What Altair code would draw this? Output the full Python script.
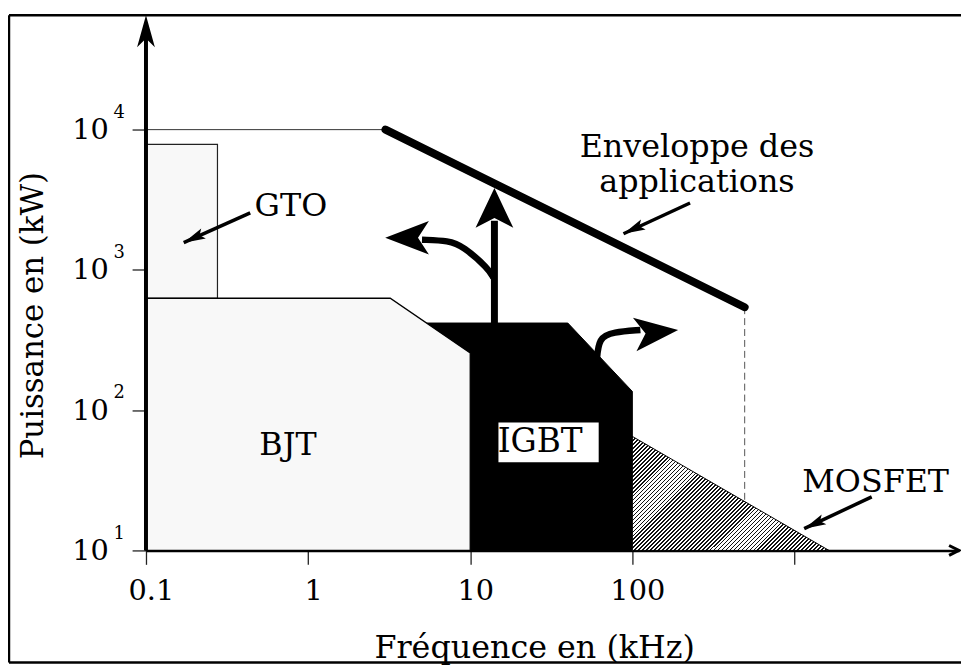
import altair as alt
import pandas as pd

# ---------------- data (frequency in kHz, power in kW) ----------------
X_DOMAIN = [0.1, 10350]
Y_DOMAIN = [10, 65260]
FLOOR = 10

x_tick_values = [0.1, 1, 10, 100, 1000]
x_tick_labels = ["0.1", "1", "10", "100", ""]
y_tick_values = [10, 100, 1000, 10000]
y_tick_base = "10"
y_tick_exponents = ["1", "2", "3", "4"]

# envelope of applications
env_ref_f = [0.1, 3.0]
env_ref_p = [10000, 10000]
env_f = [3.0, 493]
env_p = [10000, 542]
env_drop_f = [493, 493]
env_drop_p = [542, 22]

# device areas
gto_f = [0.1, 0.276]
gto_top = [7840, 7840]
gto_bottom = [628, 628]
bjt_f = [0.1, 3.21, 10]
bjt_p = [628, 628, 256]
igbt_f = [5.38, 40, 100]
igbt_p = [418, 418, 136]
mos_f = [100, 1633]
mos_p = [65, 10]

# IGBT label box
igbt_box_f = [14.93, 62.0]
igbt_box_p = [42.6, 81.8]

# text labels
label_text = ["GTO", "Enveloppe des", "applications", "BJT", "MOSFET"]
label_f = [0.783, 250.4, 250.4, 0.751, 3170]
label_p = [2427, 6346, 3588, 47.8, 26.2]
igbt_label_f = [27.0]
igbt_label_p = [50.2]

# thin annotation arrows (start -> tip)
ann_id = ["gto", "gto", "env", "env", "mos", "mos"]
ann_f = [0.4395, 0.1709, 226.9, 88.2, 2995, 1148]
ann_p = [2548, 1563, 2999, 1810, 24.1, 14.3]
ann_tip_f = [0.1709, 88.2, 1148]
ann_tip_p = [1563, 1810, 14.3]

# evolution arrows around IGBT
up_f = [14.1, 14.1]
up_p = [418, 2240]
up_tip_f = [14.1]
up_tip_p = [3830]
left_f = [13.9, 13.0, 9.0, 7.4, 5.04]
left_p = [880, 1020, 1480, 1615, 1641]
left_tip_f = [2.99]
left_tip_p = [1696]
right_f = [60.3, 62.0, 76.0, 112.1]
right_p = [221, 330, 360, 373]
right_tip_f = [191.6]
right_tip_p = [373]

# ---------------- helpers ----------------
FONT = "DejaVu Serif"
xs = alt.Scale(type="log", domain=X_DOMAIN, nice=False)
ys = alt.Scale(type="log", domain=Y_DOMAIN, nice=False)

x_expr = "[" + ",".join("'%s'" % s for s in x_tick_labels) + "][indexof([" + \
    ",".join(str(v) for v in x_tick_values) + "], datum.value)]"

x_axis = alt.Axis(
    values=x_tick_values, labelExpr=x_expr, grid=False,
    tickSize=14, tickWidth=1.3, tickColor="#222",
    domain=True, domainWidth=2.5, domainColor="black",
    labelFont=FONT, labelFontSize=29, labelColor="black", labelOffset=5,
    labelBaseline="alphabetic", labelPadding=35, labelFlush=False, labelOverlap=False,
    title="Fréquence en (kHz)", titleFont=FONT, titleFontSize=32,
    titleFontWeight="normal", titleColor="black",
    titleX=391, titleY=108, titleBaseline="alphabetic", titleAlign="center",
)
y_axis = alt.Axis(
    values=y_tick_values, labelExpr="'%s'" % y_tick_base, grid=False,
    tickSize=14, tickWidth=1.3, tickColor="#222",
    domain=False,
    labelFont=FONT, labelFontSize=29, labelColor="black",
    labelPadding=24, labelFlush=False, labelOverlap=False,
    title="Puissance en (kW)", titleFont=FONT, titleFontSize=31,
    titleFontWeight="normal", titleColor="black",
    titleX=-104, titleY=302, titleBaseline="alphabetic", titleAlign="center",
)


def X(field="f"):
    return alt.X(field + ":Q", scale=xs, axis=x_axis)


def Y(field="p"):
    return alt.Y(field + ":Q", scale=ys, axis=y_axis)


def df(**cols):
    return pd.DataFrame(cols)


one = df(a=[0])

# ---------------- layers ----------------
frame = [
    alt.Chart(one).mark_rule(stroke="black", strokeWidth=2.5).encode(
        x=alt.value(-138), x2=alt.value(830), y=alt.value(0)),
    alt.Chart(one).mark_rule(stroke="black", strokeWidth=2.5).encode(
        x=alt.value(-138), y=alt.value(0), y2=alt.value(652)),
    alt.Chart(one).mark_rule(stroke="black", strokeWidth=2.5).encode(
        x=alt.value(-138), x2=alt.value(830), y=alt.value(652)),
]

env_ref = alt.Chart(df(f=env_ref_f, p=env_ref_p)).mark_line(
    stroke="#333", strokeWidth=1).encode(x=X(), y=Y())
env_drop = alt.Chart(df(f=env_drop_f, p=env_drop_p)).mark_line(
    stroke="#555", strokeWidth=1, strokeDash=[7, 4]).encode(x=X(), y=Y())

LIGHT = "#f8f8f8"
gto = alt.Chart(df(f=gto_f, p=gto_top, p2=gto_bottom)).mark_area(
    fill=LIGHT, stroke="#222", strokeWidth=1.2).encode(
    x=X(), y=Y(), y2="p2:Q")

igbt = alt.Chart(df(f=igbt_f, p=igbt_p, b=[FLOOR] * len(igbt_f))).mark_area(
    fill="black", stroke="black", strokeWidth=1).encode(x=X(), y=Y(), y2="b:Q")

# hatch pattern for MOSFET via a striped linear gradient (45 degree stripes)
n_stripes = 80
dark = 0.42
stops = []
for k in range(n_stripes):
    a = k / n_stripes
    m = (k + dark) / n_stripes
    e = (k + 1) / n_stripes
    stops += [alt.GradientStop(color="#111", offset=a),
              alt.GradientStop(color="#111", offset=m),
              alt.GradientStop(color="white", offset=m),
              alt.GradientStop(color="white", offset=e)]
hatch = alt.LinearGradient(gradient="linear", stops=stops,
                           x1=0, y1=0, x2=1.2088, y2=0.7011)
mosfet = alt.Chart(df(f=mos_f, p=mos_p, b=[FLOOR] * len(mos_f))).mark_area(
    fill=hatch, stroke="black", strokeWidth=1).encode(x=X(), y=Y(), y2="b:Q")

bjt = alt.Chart(df(f=bjt_f, p=bjt_p, b=[FLOOR] * len(bjt_f))).mark_area(
    fill=LIGHT, stroke="black", strokeWidth=1.3).encode(x=X(), y=Y(), y2="b:Q")

envelope = alt.Chart(df(f=env_f, p=env_p)).mark_line(
    stroke="black", strokeWidth=8, strokeCap="round").encode(x=X(), y=Y())

# axis lines and heads
y_axis_line = alt.Chart(one).mark_rule(stroke="black", strokeWidth=4).encode(
    x=alt.value(0), y=alt.value(539), y2=alt.value(22))
HEAD_Y = "M0,0L0.56,2L0,1.45L-0.56,2Z"
y_head = alt.Chart(df(f=[X_DOMAIN[0]], p=[Y_DOMAIN[1]])).mark_point(
    shape=HEAD_Y, size=1024, filled=True, fill="black", strokeWidth=0,
    opacity=1).encode(x=X(), y=Y())
CHEV = "M-2,-1L0,0L-2,1"
x_head = alt.Chart(df(f=[X_DOMAIN[1]], p=[Y_DOMAIN[0]])).mark_point(
    shape=CHEV, size=100, filled=False, stroke="black", strokeWidth=3,
    opacity=1).encode(x=X(), y=Y())

# superscripts on y labels
sup = alt.Chart(df(p=y_tick_values, t=y_tick_exponents)).mark_text(
    font=FONT, fontSize=18, color="black", align="center", baseline="middle",
    dy=-17).encode(x=alt.value(-27), y=Y(), text="t:N")

# annotation arrows
ann = alt.Chart(df(id=ann_id, f=ann_f, p=ann_p, o=list(range(len(ann_f))))).mark_line(
    stroke="black", strokeWidth=3.5).encode(
    x=X(), y=Y(), detail="id:N", order="o:Q")
HEAD_S = "M0,0L0.5,2L0,1.6L-0.5,2Z"
ann_heads = alt.Chart(df(f=ann_tip_f, p=ann_tip_p)).mark_point(
    shape=HEAD_S, size=484, angle=245, filled=True, fill="black",
    strokeWidth=0, opacity=1).encode(x=X(), y=Y())

# evolution arrows
up = alt.Chart(df(f=up_f, p=up_p)).mark_line(
    stroke="black", strokeWidth=7).encode(x=X(), y=Y())
HEAD_B = "M0,0L0.95,2L0,1.5L-0.95,2Z"
up_head = alt.Chart(df(f=up_tip_f, p=up_tip_p)).mark_point(
    shape=HEAD_B, size=1600, angle=0, filled=True, fill="black",
    strokeWidth=0, opacity=1).encode(x=X(), y=Y())
left = alt.Chart(df(f=left_f, p=left_p, o=list(range(len(left_f))))).mark_line(
    stroke="black", strokeWidth=6.5, interpolate="basis").encode(
    x=X(), y=Y(), order="o:Q")
HEAD_C = "M0,0L0.77,2L0,1.5L-0.77,2Z"
left_head = alt.Chart(df(f=left_tip_f, p=left_tip_p)).mark_point(
    shape=HEAD_C, size=1936, angle=270, filled=True, fill="black",
    strokeWidth=0, opacity=1).encode(x=X(), y=Y())
right = alt.Chart(df(f=right_f, p=right_p, o=list(range(len(right_f))))).mark_line(
    stroke="black", strokeWidth=6.5, interpolate="basis").encode(
    x=X(), y=Y(), order="o:Q")
right_head = alt.Chart(df(f=right_tip_f, p=right_tip_p)).mark_point(
    shape=HEAD_C, size=1936, angle=84, filled=True, fill="black",
    strokeWidth=0, opacity=1).encode(x=X(), y=Y())

# texts
labels = alt.Chart(df(f=label_f, p=label_p, t=label_text)).mark_text(
    font=FONT, fontSize=32, color="black", align="center",
    baseline="alphabetic").encode(x=X(), y=Y(), text="t:N")
igbt_box = alt.Chart(df(f=[igbt_box_f[0]], f2=[igbt_box_f[1]],
                        p=[igbt_box_p[0]], p2=[igbt_box_p[1]])).mark_rect(
    fill="white").encode(x=X(), x2="f2:Q", y=Y(), y2="p2:Q")
igbt_label = alt.Chart(df(f=igbt_label_f, p=igbt_label_p, t=["IGBT"])).mark_text(
    font=FONT, fontSize=33, color="black", align="center",
    baseline="alphabetic").encode(x=X(), y=Y(), text="t:N")

chart = alt.layer(
    *frame, env_ref, env_drop, gto, igbt, mosfet, bjt, envelope,
    y_axis_line, y_head, x_head, sup,
    ann, ann_heads, up, up_head, left, left_head, right, right_head,
    labels, igbt_box, igbt_label,
).properties(
    width=819, height=539,
    padding={"left": 139, "top": 5, "right": 2, "bottom": 114},
    autosize=alt.AutoSizeParams(type="none"),
    background="white",
).configure_view(stroke=None)

chart.save("out.html", embed_options={"renderer": "svg", "actions": False})
